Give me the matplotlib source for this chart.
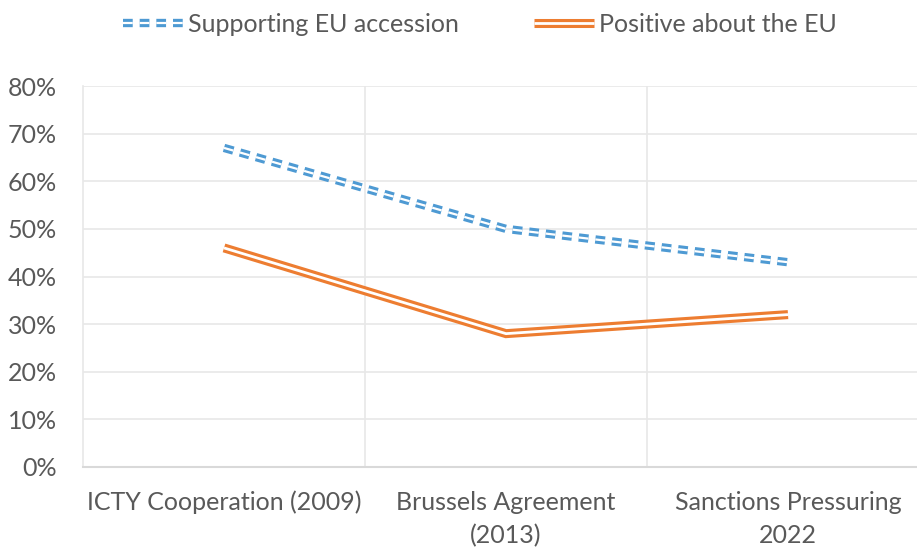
import numpy as np
import matplotlib
matplotlib.use("Agg")
from matplotlib import pyplot as plt
from matplotlib.legend_handler import HandlerTuple

plt.rcParams["font.family"] = ["Lato", "DejaVu Sans"]
plt.rcParams["lines.scale_dashes"] = False

categories = ["ICTY Cooperation (2009)", "Brussels Agreement\n(2013)", "Sanctions Pressuring\n2022"]
supporting_accession = [67, 50, 43]
positive_eu = [46, 28, 32]
yticks = [0, 10, 20, 30, 40, 50, 60, 70, 80]

blue = "#4E9AD3"
orange = "#ED7D31"
grid = "#E8E8E8"
text = "#595959"

fig = plt.figure(figsize=(9.17, 5.5), dpi=100)
ax = fig.add_axes([83 / 917, 1 - 467 / 550, 846 / 917, 381 / 550])

x = np.arange(len(categories))

# double lines: thick coloured line with a thin white stripe on top
b1, = ax.plot(x, supporting_accession, color=blue, lw=6.0, dashes=(7, 5),
              dash_capstyle="butt", solid_joinstyle="miter", zorder=3)
b2, = ax.plot(x, supporting_accession, color="white", lw=1.6, dashes=(7, 5),
              dash_capstyle="butt", zorder=4)
o1, = ax.plot(x, positive_eu, color=orange, lw=6.5, solid_joinstyle="miter",
              solid_capstyle="butt", zorder=3)
o2, = ax.plot(x, positive_eu, color="white", lw=2.0, solid_joinstyle="miter",
              solid_capstyle="butt", zorder=4)

ax.set_xlim(-0.5, 2.5)
ax.set_ylim(0, 80)
ax.set_yticks(yticks)
ax.set_yticklabels([f"{v}%" for v in yticks])
ax.set_xticks(x)
ax.set_xticklabels(categories, linespacing=1.55)

ax.set_xticks([0.5, 1.5], minor=True)
ax.grid(axis="y", color=grid, lw=1.2)
ax.grid(axis="x", which="minor", color=grid, lw=1.2)
ax.set_axisbelow(True)

for s in ["top", "right"]:
    ax.spines[s].set_visible(False)
ax.spines["left"].set_color(grid)
ax.spines["bottom"].set_color("#D9D9D9")
ax.spines["bottom"].set_linewidth(1.5)
ax.spines["left"].set_linewidth(1.2)

ax.tick_params(axis="both", which="both", length=0, labelsize=18, colors=text)
ax.tick_params(axis="y", pad=19)
ax.tick_params(axis="x", pad=17)

fig.legend([(b1, b2), (o1, o2)], ["Supporting EU accession", "Positive about the EU"],
           handler_map={tuple: HandlerTuple(ndivide=1)},
           loc="center", bbox_to_anchor=(480 / 917, 1 - 24 / 550), ncol=2,
           frameon=False, fontsize=18, labelcolor=text, handlelength=2.4,
           handletextpad=0.2, columnspacing=3.0)

fig.savefig("out.png", dpi=100)
